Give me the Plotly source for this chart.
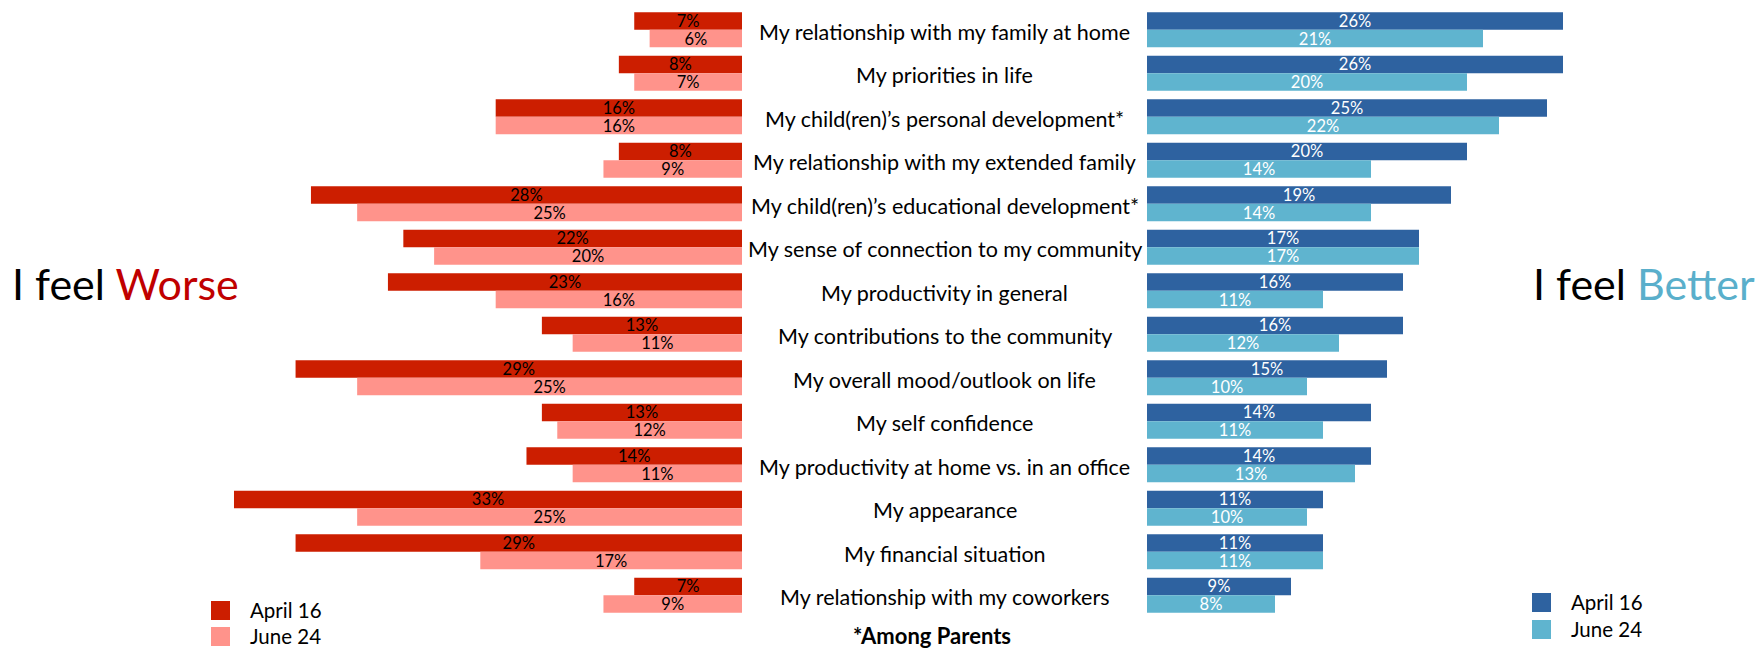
import plotly.graph_objects as go

# Survey items, top to bottom
categories = [
    "My relationship with my family at home",
    "My priorities in life",
    "My child(ren)’s personal development*",
    "My relationship with my extended family",
    "My child(ren)’s educational development*",
    "My sense of connection to my community",
    "My productivity in general",
    "My contributions to the community",
    "My overall mood/outlook on life",
    "My self confidence",
    "My productivity at home vs. in an office",
    "My appearance",
    "My financial situation",
    "My relationship with my coworkers",
]

# Share (%) who feel worse
worse_apr16 = [7, 8, 16, 8, 28, 22, 23, 13, 29, 13, 14, 33, 29, 7]
worse_jun24 = [6, 7, 16, 9, 25, 20, 16, 11, 25, 12, 11, 25, 17, 9]

# Share (%) who feel better
better_apr16 = [26, 26, 25, 20, 19, 17, 16, 16, 15, 14, 14, 11, 11, 9]
better_jun24 = [21, 20, 22, 14, 14, 17, 11, 12, 10, 11, 13, 10, 11, 8]

wave_names = ["April 16", "June 24"]

W, H = 1763, 648
FONT = "Lato"

RED_DARK, RED_LIGHT = "#CC1E00", "#FF938B"
BLUE_DARK, BLUE_LIGHT = "#2E62A0", "#5FB4CF"


def pct(vals):
    return [f"{v}%" for v in vals]


def bar(vals, name, color, txtcolor, xaxis):
    return go.Bar(
        y=categories,
        x=vals,
        orientation="h",
        name=name,
        marker=dict(color=color, line=dict(width=0)),
        text=pct(vals),
        textposition="inside",
        insidetextanchor="middle",
        textangle=0,
        constraintext="none",
        textfont=dict(family=FONT, size=16.5, color=txtcolor),
        xaxis=xaxis,
        yaxis="y",
        showlegend=False,
        hoverinfo="skip",
    )


fig = go.Figure()
fig.add_trace(bar(worse_apr16, wave_names[0], RED_DARK, "black", "x"))
fig.add_trace(bar(worse_jun24, wave_names[1], RED_LIGHT, "black", "x"))
fig.add_trace(bar(better_apr16, wave_names[0], BLUE_DARK, "white", "x2"))
fig.add_trace(bar(better_jun24, wave_names[1], BLUE_LIGHT, "white", "x2"))

annotations = [
    dict(
        text=c, x=944.5 / W, xref="paper", y=c, yref="y", yshift=-2,
        xanchor="center", yanchor="middle", showarrow=False,
        font=dict(family=FONT, size=21.5, color="black"),
    )
    for c in categories
]
annotations += [
    dict(
        text="I feel <span style='color:#C00000'>Worse</span>",
        x=10 / W, y=1 - 284 / H, xref="paper", yref="paper",
        xanchor="left", yanchor="middle", showarrow=False,
        font=dict(family=FONT, size=43, color="black"),
    ),
    dict(
        text="I feel <span style='color:#5AAFCB'>Better</span>",
        x=1757 / W, y=1 - 284 / H, xref="paper", yref="paper",
        xanchor="right", yanchor="middle", showarrow=False,
        font=dict(family=FONT, size=43, color="black"),
    ),
    dict(
        text="<b>*Among Parents</b>",
        x=932 / W, y=1 - 635 / H, xref="paper", yref="paper",
        xanchor="center", yanchor="middle", showarrow=False,
        font=dict(family=FONT, size=22, color="black"),
    ),
]

# Key boxes for each side: (left edge px, [top px of each swatch], colours)
shapes = []
keys = [
    (211, [601, 627], [RED_DARK, RED_LIGHT]),
    (1532, [593, 620], [BLUE_DARK, BLUE_LIGHT]),
]
for x0, tops, colors in keys:
    for top, col, name in zip(tops, colors, wave_names):
        shapes.append(dict(
            type="rect", xref="paper", yref="paper",
            x0=x0 / W, x1=(x0 + 19) / W,
            y0=1 - (top + 19) / H, y1=1 - top / H,
            fillcolor=col, line=dict(width=0),
        ))
        annotations.append(dict(
            text=name, x=(x0 + 37) / W, y=1 - (top + 9) / H,
            xref="paper", yref="paper", xanchor="left", yanchor="middle",
            showarrow=False, font=dict(family=FONT, size=20.5, color="black"),
        ))

fig.update_layout(
    width=W,
    height=H,
    margin=dict(l=0, r=0, t=0, b=0),
    paper_bgcolor="white",
    plot_bgcolor="white",
    barmode="group",
    bargap=0.195,
    bargroupgap=0,
    # worse side grows leftwards from the centre column
    xaxis=dict(domain=[0, 742 / W], range=[48.2, 0], visible=False, anchor="y"),
    # better side grows rightwards
    xaxis2=dict(domain=[1147 / W, 1], range=[0, 38.5], visible=False, anchor="y"),
    yaxis=dict(domain=[31 / H, 1 - 8 / H], autorange="reversed",
               type="category", visible=False),
    annotations=annotations,
    shapes=shapes,
    showlegend=False,
)

fig.write_html("out.html")
